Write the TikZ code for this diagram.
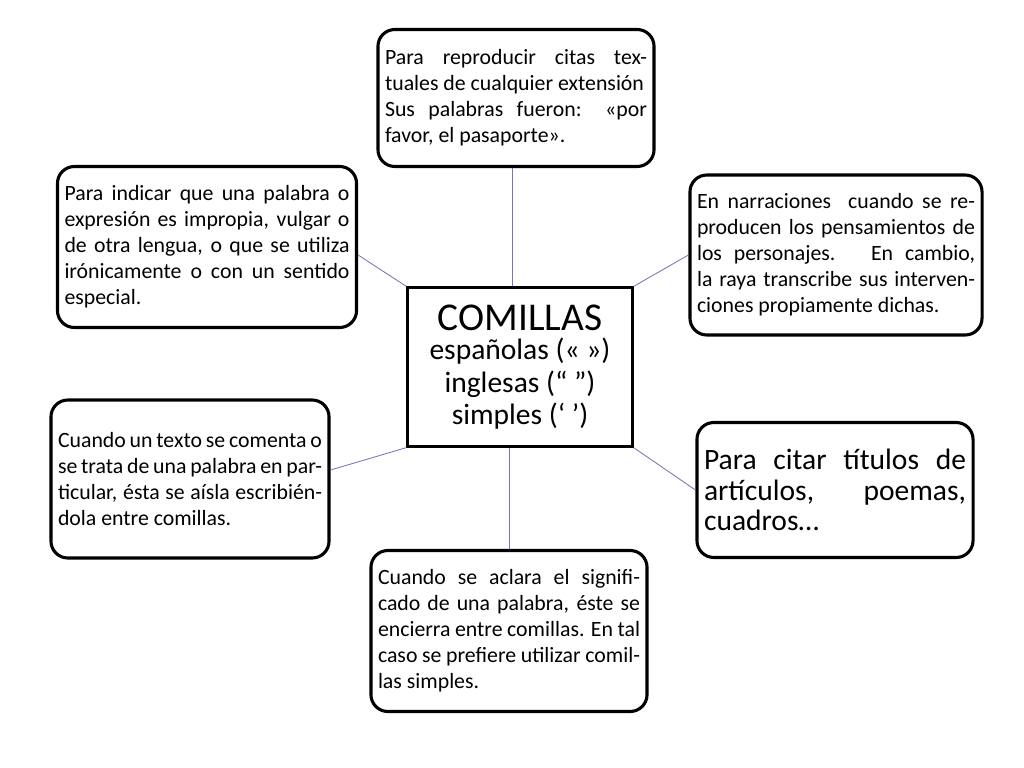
\documentclass[tikz,border=0pt]{standalone}
\usepackage{fontspec}
\setmainfont{Carlito}
\usetikzlibrary{positioning}

\tikzset{
  notebox/.style={draw=black,line width=2.2pt,rounded corners=12pt,align=justify,
    inner sep=5pt,font=\fontsize{15.5}{18.5}\selectfont},
  link/.style={draw=blue!35!gray!80,line width=0.6pt}
}

\begin{document}
\begin{tikzpicture}[x=0.025cm,y=-0.025cm]
 \useasboundingbox (0,0) rectangle (1024,768);
 % centre
 \node[draw=black,line width=1.6pt,minimum width=225*0.025cm,minimum height=159*0.025cm,
   align=center,font=\fontsize{21}{23}\selectfont]
   (main) at (520,367) {\fontsize{28}{32}\selectfont COMILLAS\\[-2pt]
   \fontsize{21}{23}\selectfont españolas (« »)\\ \fontsize{21}{23}\selectfont inglesas (“ ”)\\
   \fontsize{21}{23}\selectfont simples (‘ ’)};
 % boxes around
 \node[notebox,text width=262*0.025cm,minimum height=137*0.025cm] (top) at (516,98)
   {Para reproducir citas textuales de cualquier extensión\\Sus palabras fueron: «por favor, el pasaporte».};
 \node[notebox,text width=285*0.025cm,minimum height=161*0.025cm] (lefttop) at (207,247)
   {Para indicar que una palabra o expresión es impropia, vulgar o de otra lengua, o que se utiliza irónicamente o con un sentido especial.};
 \node[notebox,text width=278*0.025cm,minimum height=160*0.025cm] (righttop) at (836,255)
   {En narraciones\ \ cuando se reproducen los pensamientos de los personajes.\ \ \ En cambio,\ la raya transcribe sus intervenciones propiamente dichas.};
 \node[notebox,text width=264*0.025cm,minimum height=158*0.025cm] (leftbot) at (190,479)
   {Cuando un texto se comenta o se trata de una palabra en particular, ésta se aísla escribiéndola entre comillas.};
 \node[notebox,text width=262*0.025cm,minimum height=135*0.025cm,
   font=\fontsize{21}{21.5}\selectfont] (rightbot) at (835,490)
   {Para citar títulos de artículos, poemas, cuadros…};
 \node[notebox,text width=262*0.025cm,minimum height=161*0.025cm] (bottom) at (509,631)
   {Cuando se aclara el significado de una palabra, éste se encierra entre comillas. En tal caso se prefiere utilizar comillas simples.};
 % connectors
 \draw[link] (top.south -| 512,0) -- (main.north -| 512,0);
 \draw[link] (lefttop.east |- 0,255) -- (main.north west);
 \draw[link] (righttop.west |- 0,255) -- (main.north east);
 \draw[link] (leftbot.east |- 0,470) -- (main.south west);
 \draw[link] (rightbot.west) -- (main.south east);
 \draw[link] (main.south -| 509,0) -- (bottom.north -| 509,0);
\end{tikzpicture}
\end{document}
